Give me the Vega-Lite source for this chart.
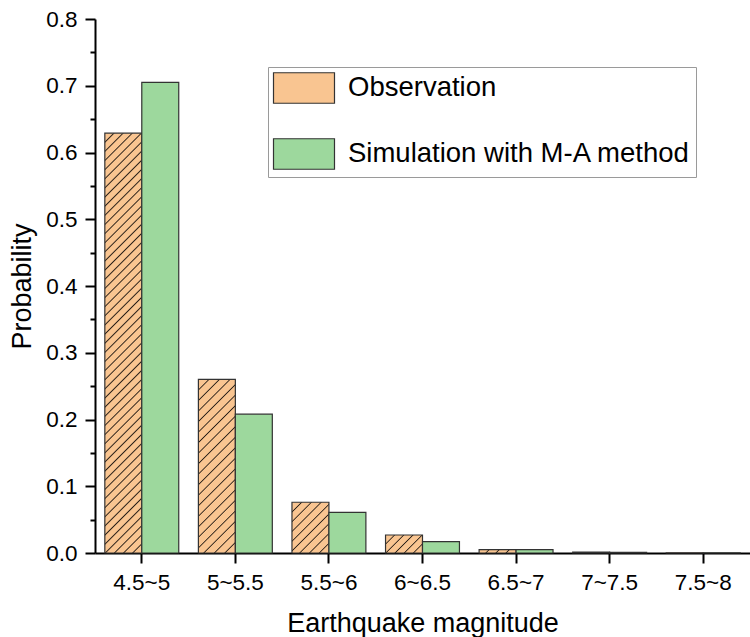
{
  "$schema": "https://vega.github.io/schema/vega-lite/v6.json",
  "width": 655,
  "height": 534,
  "autosize": {"type": "none"},
  "padding": {"left": 95, "top": 19, "right": 0, "bottom": 84},
  "background": "white",
  "config": {
    "view": {"stroke": null},
    "font": "Liberation Sans",
    "axis": {
      "labelFont": "Liberation Sans",
      "labelFontSize": 22.5,
      "labelColor": "black",
      "titleFont": "Liberation Sans",
      "titleFontSize": 27,
      "titleFontWeight": "normal",
      "titleColor": "black",
      "domainColor": "black",
      "domainWidth": 2,
      "tickColor": "black",
      "tickWidth": 2,
      "grid": false
    }
  },
  "data": {
    "values": [
      {"magnitude": "4.5~5", "series": "Observation", "probability": 0.629},
      {"magnitude": "4.5~5", "series": "Simulation with M-A method", "probability": 0.705},
      {"magnitude": "5~5.5", "series": "Observation", "probability": 0.26},
      {"magnitude": "5~5.5", "series": "Simulation with M-A method", "probability": 0.208},
      {"magnitude": "5.5~6", "series": "Observation", "probability": 0.076},
      {"magnitude": "5.5~6", "series": "Simulation with M-A method", "probability": 0.061},
      {"magnitude": "6~6.5", "series": "Observation", "probability": 0.027},
      {"magnitude": "6~6.5", "series": "Simulation with M-A method", "probability": 0.017},
      {"magnitude": "6.5~7", "series": "Observation", "probability": 0.005},
      {"magnitude": "6.5~7", "series": "Simulation with M-A method", "probability": 0.005},
      {"magnitude": "7~7.5", "series": "Observation", "probability": 0.0015},
      {"magnitude": "7~7.5", "series": "Simulation with M-A method", "probability": 0.001},
      {"magnitude": "7.5~8", "series": "Observation", "probability": 0.0003},
      {"magnitude": "7.5~8", "series": "Simulation with M-A method", "probability": 0.0002}
    ]
  },
  "mark": {"type": "bar", "stroke": "#333333", "strokeWidth": 1.2},
  "encoding": {
    "x": {
      "field": "magnitude",
      "type": "nominal",
      "sort": null,
      "scale": {"paddingInner": 0.21, "paddingOuter": 0.105},
      "axis": {"title": "Earthquake magnitude", "labelAngle": 0, "tickSize": 10, "labelPadding": 8, "titlePadding": 17}
    },
    "xOffset": {
      "field": "series",
      "type": "nominal",
      "sort": ["Observation", "Simulation with M-A method"],
      "scale": {"paddingInner": 0, "paddingOuter": 0}
    },
    "y": {
      "field": "probability",
      "type": "quantitative",
      "scale": {"domain": [0, 0.8], "nice": false},
      "axis": {
        "title": "Probability",
        "values": [0, 0.05, 0.1, 0.15, 0.2, 0.25, 0.3, 0.35, 0.4, 0.45, 0.5, 0.55, 0.6, 0.65, 0.7, 0.75, 0.8],
        "labelExpr": "round(datum.value*100) % 10 == 0 ? format(datum.value, '.1f') : ''",
        "tickSize": {"condition": {"test": "round(datum.value*100) % 10 != 0", "value": 5}, "value": 10},
        "labelPadding": 8,
        "titlePadding": 9
      }
    },
    "fill": {
      "field": "series",
      "type": "nominal",
      "scale": {"domain": ["Observation", "Simulation with M-A method"], "range": ["#f9c591", "#9dd89d"]},
      "legend": {
        "title": null,
        "orient": "none",
        "legendX": 173,
        "legendY": 48,
        "direction": "vertical",
        "symbolType": "M-2,-1H2V1H-2Z",
        "symbolSize": 930,
        "symbolStrokeColor": "#333333",
        "symbolStrokeWidth": 1.2,
        "symbolOpacity": 1,
        "symbolOffset": 15,
        "labelFont": "Liberation Sans",
        "labelFontSize": 27.5,
        "labelColor": "black",
        "labelOffset": 28,
        "labelLimit": 0,
        "rowPadding": 30,
        "padding": 5,
        "strokeColor": "#9a9a9a"
      },
      "condition": [
        {"test": "datum.series === 'Observation' && datum.magnitude === '4.5~5'", "value": {"gradient": "linear", "x1": 0, "y1": 0, "x2": 0.095, "y2": 1.0797, "stops": [
          {"offset": 0.017, "color": "#f9c591"}, {"offset": 0.02, "color": "#2a2018"}, {"offset": 0.023, "color": "#f9c591"},
          {"offset": 0.037, "color": "#f9c591"}, {"offset": 0.04, "color": "#2a2018"}, {"offset": 0.043, "color": "#f9c591"},
          {"offset": 0.057, "color": "#f9c591"}, {"offset": 0.06, "color": "#2a2018"}, {"offset": 0.063, "color": "#f9c591"},
          {"offset": 0.077, "color": "#f9c591"}, {"offset": 0.08, "color": "#2a2018"}, {"offset": 0.083, "color": "#f9c591"},
          {"offset": 0.097, "color": "#f9c591"}, {"offset": 0.1, "color": "#2a2018"}, {"offset": 0.103, "color": "#f9c591"},
          {"offset": 0.117, "color": "#f9c591"}, {"offset": 0.12, "color": "#2a2018"}, {"offset": 0.123, "color": "#f9c591"},
          {"offset": 0.137, "color": "#f9c591"}, {"offset": 0.14, "color": "#2a2018"}, {"offset": 0.143, "color": "#f9c591"},
          {"offset": 0.157, "color": "#f9c591"}, {"offset": 0.16, "color": "#2a2018"}, {"offset": 0.163, "color": "#f9c591"},
          {"offset": 0.177, "color": "#f9c591"}, {"offset": 0.18, "color": "#2a2018"}, {"offset": 0.183, "color": "#f9c591"},
          {"offset": 0.197, "color": "#f9c591"}, {"offset": 0.2, "color": "#2a2018"}, {"offset": 0.203, "color": "#f9c591"},
          {"offset": 0.217, "color": "#f9c591"}, {"offset": 0.22, "color": "#2a2018"}, {"offset": 0.223, "color": "#f9c591"},
          {"offset": 0.237, "color": "#f9c591"}, {"offset": 0.24, "color": "#2a2018"}, {"offset": 0.243, "color": "#f9c591"},
          {"offset": 0.257, "color": "#f9c591"}, {"offset": 0.26, "color": "#2a2018"}, {"offset": 0.263, "color": "#f9c591"},
          {"offset": 0.277, "color": "#f9c591"}, {"offset": 0.28, "color": "#2a2018"}, {"offset": 0.283, "color": "#f9c591"},
          {"offset": 0.297, "color": "#f9c591"}, {"offset": 0.3, "color": "#2a2018"}, {"offset": 0.303, "color": "#f9c591"},
          {"offset": 0.317, "color": "#f9c591"}, {"offset": 0.32, "color": "#2a2018"}, {"offset": 0.323, "color": "#f9c591"},
          {"offset": 0.337, "color": "#f9c591"}, {"offset": 0.34, "color": "#2a2018"}, {"offset": 0.343, "color": "#f9c591"},
          {"offset": 0.357, "color": "#f9c591"}, {"offset": 0.36, "color": "#2a2018"}, {"offset": 0.363, "color": "#f9c591"},
          {"offset": 0.377, "color": "#f9c591"}, {"offset": 0.38, "color": "#2a2018"}, {"offset": 0.383, "color": "#f9c591"},
          {"offset": 0.397, "color": "#f9c591"}, {"offset": 0.4, "color": "#2a2018"}, {"offset": 0.403, "color": "#f9c591"},
          {"offset": 0.417, "color": "#f9c591"}, {"offset": 0.42, "color": "#2a2018"}, {"offset": 0.423, "color": "#f9c591"},
          {"offset": 0.437, "color": "#f9c591"}, {"offset": 0.44, "color": "#2a2018"}, {"offset": 0.443, "color": "#f9c591"},
          {"offset": 0.457, "color": "#f9c591"}, {"offset": 0.46, "color": "#2a2018"}, {"offset": 0.463, "color": "#f9c591"},
          {"offset": 0.477, "color": "#f9c591"}, {"offset": 0.48, "color": "#2a2018"}, {"offset": 0.483, "color": "#f9c591"},
          {"offset": 0.497, "color": "#f9c591"}, {"offset": 0.5, "color": "#2a2018"}, {"offset": 0.503, "color": "#f9c591"},
          {"offset": 0.517, "color": "#f9c591"}, {"offset": 0.52, "color": "#2a2018"}, {"offset": 0.523, "color": "#f9c591"},
          {"offset": 0.537, "color": "#f9c591"}, {"offset": 0.54, "color": "#2a2018"}, {"offset": 0.543, "color": "#f9c591"},
          {"offset": 0.557, "color": "#f9c591"}, {"offset": 0.56, "color": "#2a2018"}, {"offset": 0.563, "color": "#f9c591"},
          {"offset": 0.577, "color": "#f9c591"}, {"offset": 0.58, "color": "#2a2018"}, {"offset": 0.583, "color": "#f9c591"},
          {"offset": 0.597, "color": "#f9c591"}, {"offset": 0.6, "color": "#2a2018"}, {"offset": 0.603, "color": "#f9c591"},
          {"offset": 0.617, "color": "#f9c591"}, {"offset": 0.62, "color": "#2a2018"}, {"offset": 0.623, "color": "#f9c591"},
          {"offset": 0.637, "color": "#f9c591"}, {"offset": 0.64, "color": "#2a2018"}, {"offset": 0.643, "color": "#f9c591"},
          {"offset": 0.657, "color": "#f9c591"}, {"offset": 0.66, "color": "#2a2018"}, {"offset": 0.663, "color": "#f9c591"},
          {"offset": 0.677, "color": "#f9c591"}, {"offset": 0.68, "color": "#2a2018"}, {"offset": 0.683, "color": "#f9c591"},
          {"offset": 0.697, "color": "#f9c591"}, {"offset": 0.7, "color": "#2a2018"}, {"offset": 0.703, "color": "#f9c591"},
          {"offset": 0.717, "color": "#f9c591"}, {"offset": 0.72, "color": "#2a2018"}, {"offset": 0.723, "color": "#f9c591"},
          {"offset": 0.737, "color": "#f9c591"}, {"offset": 0.74, "color": "#2a2018"}, {"offset": 0.743, "color": "#f9c591"},
          {"offset": 0.757, "color": "#f9c591"}, {"offset": 0.76, "color": "#2a2018"}, {"offset": 0.763, "color": "#f9c591"},
          {"offset": 0.777, "color": "#f9c591"}, {"offset": 0.78, "color": "#2a2018"}, {"offset": 0.783, "color": "#f9c591"},
          {"offset": 0.797, "color": "#f9c591"}, {"offset": 0.8, "color": "#2a2018"}, {"offset": 0.803, "color": "#f9c591"},
          {"offset": 0.817, "color": "#f9c591"}, {"offset": 0.82, "color": "#2a2018"}, {"offset": 0.823, "color": "#f9c591"},
          {"offset": 0.837, "color": "#f9c591"}, {"offset": 0.84, "color": "#2a2018"}, {"offset": 0.843, "color": "#f9c591"},
          {"offset": 0.857, "color": "#f9c591"}, {"offset": 0.86, "color": "#2a2018"}, {"offset": 0.863, "color": "#f9c591"},
          {"offset": 0.877, "color": "#f9c591"}, {"offset": 0.88, "color": "#2a2018"}, {"offset": 0.883, "color": "#f9c591"},
          {"offset": 0.897, "color": "#f9c591"}, {"offset": 0.9, "color": "#2a2018"}, {"offset": 0.903, "color": "#f9c591"},
          {"offset": 0.917, "color": "#f9c591"}, {"offset": 0.92, "color": "#2a2018"}, {"offset": 0.923, "color": "#f9c591"},
          {"offset": 0.937, "color": "#f9c591"}, {"offset": 0.94, "color": "#2a2018"}, {"offset": 0.943, "color": "#f9c591"},
          {"offset": 0.957, "color": "#f9c591"}, {"offset": 0.96, "color": "#2a2018"}, {"offset": 0.963, "color": "#f9c591"},
          {"offset": 0.977, "color": "#f9c591"}, {"offset": 0.98, "color": "#2a2018"}, {"offset": 0.983, "color": "#f9c591"}
        ]}},
        {"test": "datum.series === 'Observation' && datum.magnitude === '5~5.5'", "value": {"gradient": "linear", "x1": 0, "y1": 0, "x2": 0.2471, "y2": 1.1604, "stops": [
          {"offset": 0.044, "color": "#f9c591"}, {"offset": 0.05, "color": "#2a2018"}, {"offset": 0.056, "color": "#f9c591"},
          {"offset": 0.094, "color": "#f9c591"}, {"offset": 0.1, "color": "#2a2018"}, {"offset": 0.106, "color": "#f9c591"},
          {"offset": 0.144, "color": "#f9c591"}, {"offset": 0.15, "color": "#2a2018"}, {"offset": 0.156, "color": "#f9c591"},
          {"offset": 0.194, "color": "#f9c591"}, {"offset": 0.2, "color": "#2a2018"}, {"offset": 0.206, "color": "#f9c591"},
          {"offset": 0.244, "color": "#f9c591"}, {"offset": 0.25, "color": "#2a2018"}, {"offset": 0.256, "color": "#f9c591"},
          {"offset": 0.294, "color": "#f9c591"}, {"offset": 0.3, "color": "#2a2018"}, {"offset": 0.306, "color": "#f9c591"},
          {"offset": 0.344, "color": "#f9c591"}, {"offset": 0.35, "color": "#2a2018"}, {"offset": 0.356, "color": "#f9c591"},
          {"offset": 0.394, "color": "#f9c591"}, {"offset": 0.4, "color": "#2a2018"}, {"offset": 0.406, "color": "#f9c591"},
          {"offset": 0.444, "color": "#f9c591"}, {"offset": 0.45, "color": "#2a2018"}, {"offset": 0.456, "color": "#f9c591"},
          {"offset": 0.494, "color": "#f9c591"}, {"offset": 0.5, "color": "#2a2018"}, {"offset": 0.506, "color": "#f9c591"},
          {"offset": 0.544, "color": "#f9c591"}, {"offset": 0.55, "color": "#2a2018"}, {"offset": 0.556, "color": "#f9c591"},
          {"offset": 0.594, "color": "#f9c591"}, {"offset": 0.6, "color": "#2a2018"}, {"offset": 0.606, "color": "#f9c591"},
          {"offset": 0.644, "color": "#f9c591"}, {"offset": 0.65, "color": "#2a2018"}, {"offset": 0.656, "color": "#f9c591"},
          {"offset": 0.694, "color": "#f9c591"}, {"offset": 0.7, "color": "#2a2018"}, {"offset": 0.706, "color": "#f9c591"},
          {"offset": 0.744, "color": "#f9c591"}, {"offset": 0.75, "color": "#2a2018"}, {"offset": 0.756, "color": "#f9c591"},
          {"offset": 0.794, "color": "#f9c591"}, {"offset": 0.8, "color": "#2a2018"}, {"offset": 0.806, "color": "#f9c591"},
          {"offset": 0.844, "color": "#f9c591"}, {"offset": 0.85, "color": "#2a2018"}, {"offset": 0.856, "color": "#f9c591"},
          {"offset": 0.894, "color": "#f9c591"}, {"offset": 0.9, "color": "#2a2018"}, {"offset": 0.906, "color": "#f9c591"},
          {"offset": 0.944, "color": "#f9c591"}, {"offset": 0.95, "color": "#2a2018"}, {"offset": 0.956, "color": "#f9c591"}
        ]}},
        {"test": "datum.series === 'Observation' && datum.magnitude === '5.5~6'", "value": {"gradient": "linear", "x1": 0, "y1": 0, "x2": 0.8227, "y2": 1.1292, "stops": [
          {"offset": 0.0971, "color": "#f9c591"}, {"offset": 0.1111, "color": "#2a2018"}, {"offset": 0.1251, "color": "#f9c591"},
          {"offset": 0.2082, "color": "#f9c591"}, {"offset": 0.2222, "color": "#2a2018"}, {"offset": 0.2362, "color": "#f9c591"},
          {"offset": 0.3193, "color": "#f9c591"}, {"offset": 0.3333, "color": "#2a2018"}, {"offset": 0.3473, "color": "#f9c591"},
          {"offset": 0.4304, "color": "#f9c591"}, {"offset": 0.4444, "color": "#2a2018"}, {"offset": 0.4584, "color": "#f9c591"},
          {"offset": 0.5416, "color": "#f9c591"}, {"offset": 0.5556, "color": "#2a2018"}, {"offset": 0.5696, "color": "#f9c591"},
          {"offset": 0.6527, "color": "#f9c591"}, {"offset": 0.6667, "color": "#2a2018"}, {"offset": 0.6807, "color": "#f9c591"},
          {"offset": 0.7638, "color": "#f9c591"}, {"offset": 0.7778, "color": "#2a2018"}, {"offset": 0.7918, "color": "#f9c591"},
          {"offset": 0.8749, "color": "#f9c591"}, {"offset": 0.8889, "color": "#2a2018"}, {"offset": 0.9029, "color": "#f9c591"}
        ]}},
        {"test": "datum.series === 'Observation' && datum.magnitude === '6~6.5'", "value": {"gradient": "linear", "x1": 0, "y1": 0, "x2": 1.2019, "y2": 0.5861, "stops": [
          {"offset": 0.1447, "color": "#f9c591"}, {"offset": 0.1667, "color": "#2a2018"}, {"offset": 0.1887, "color": "#f9c591"},
          {"offset": 0.3113, "color": "#f9c591"}, {"offset": 0.3333, "color": "#2a2018"}, {"offset": 0.3553, "color": "#f9c591"},
          {"offset": 0.478, "color": "#f9c591"}, {"offset": 0.5, "color": "#2a2018"}, {"offset": 0.522, "color": "#f9c591"},
          {"offset": 0.6447, "color": "#f9c591"}, {"offset": 0.6667, "color": "#2a2018"}, {"offset": 0.6887, "color": "#f9c591"},
          {"offset": 0.8113, "color": "#f9c591"}, {"offset": 0.8333, "color": "#2a2018"}, {"offset": 0.8553, "color": "#f9c591"}
        ]}},
        {"test": "datum.series === 'Observation' && datum.magnitude === '6.5~7'", "value": {"gradient": "linear", "x1": 0, "y1": 0, "x2": 1.0816, "y2": 0.0978, "stops": [
          {"offset": 0.22, "color": "#f9c591"}, {"offset": 0.25, "color": "#2a2018"}, {"offset": 0.28, "color": "#f9c591"},
          {"offset": 0.47, "color": "#f9c591"}, {"offset": 0.5, "color": "#2a2018"}, {"offset": 0.53, "color": "#f9c591"},
          {"offset": 0.72, "color": "#f9c591"}, {"offset": 0.75, "color": "#2a2018"}, {"offset": 0.78, "color": "#f9c591"}
        ]}}
      ]
    }
  }
}
